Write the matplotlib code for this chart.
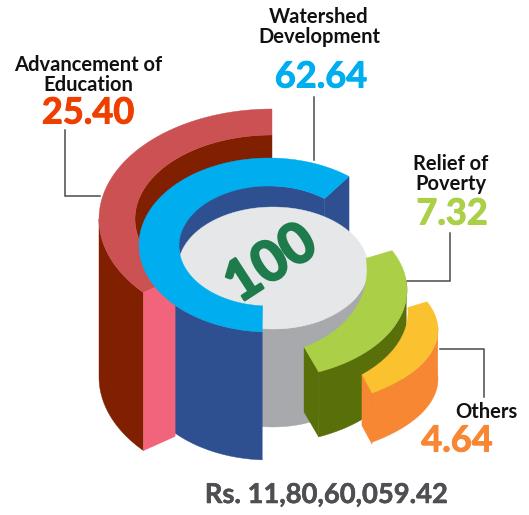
import numpy as np
import matplotlib
matplotlib.use("Agg")
import matplotlib.pyplot as plt
import matplotlib.patheffects as pe

categories = ["Advancement of\nEducation", "Watershed\nDevelopment", "Relief of\nPoverty", "Others"]
values = [25.40, 62.64, 7.32, 4.64]
total_label = "100"
amount_label = "Rs. 11,80,60,059.42"

plt.rcParams['font.family'] = ['Lato', 'DejaVu Sans']
fig = plt.figure(figsize=(5.29, 5.15), dpi=100)
ax = fig.add_axes([0, 0, 1, 1])
ax.set_xlim(0, 529)
ax.set_ylim(515, 0)
ax.axis('off')


def arc(ell, a0, a1, dy=0, n=120):
    cx, cy, rx, ry = ell
    t = np.radians(np.linspace(a0, a1, n))
    return cx + rx * np.cos(t), cy - ry * np.sin(t) + dy


def fill(xs, ys, color, z):
    ax.fill(xs, ys, color=color, lw=0.3, ec=color, zorder=z)


def band(outer, oa, inner, ia, color, z):
    x0, y0 = arc(outer, *oa)
    x1, y1 = arc(inner, ia[1], ia[0])
    fill(np.r_[x0, x1], np.r_[y0, y1], color, z)


def wall(ell, a0, a1, h, color, z):
    x, y = arc(ell, a0, a1)
    fill(np.r_[x, x[::-1]], np.r_[y, y[::-1] + h], color, z)


def end_face(p, q, h, color, z):
    fill([p[0], q[0], q[0], p[0]], [p[1], q[1], q[1] + h, p[1] + h], color, z)


def pt(ell, a):
    x, y = arc(ell, a, a, n=1)
    return x[0], y[0]


# ---- Advancement of Education (back ring)
R_OUT, R_IN = (272, 219, 173, 110), (272, 219, 137, 84)
x, y = arc(R_IN, 90, 205)
fill(np.r_[x, 272], np.r_[y, 219], '#802000', 1)
wall(R_OUT, 180, 222, 158, '#802000', 2)
band(R_OUT, (90, 222), R_IN, (90, 225), '#CB5153', 3)

# ---- Watershed Development
B_OUT, B_IN = (269, 245, 130, 87), (269, 246, 90, 60)
wall(B_IN, 52, 190, 60, '#2E5090', 4)
end_face(pt(B_IN, 52), pt(B_OUT, 52), 128, '#2E5090', 4)

# ---- Centre disc
G = (273, 268, 95, 61)
wall(G, 180, 360, 98, '#A7A9AC', 5)
x, y = arc(G, 0, 360)
fill(x, y, '#E6E7E8', 6)

wall(B_OUT, 222, 267, 128, '#2E5090', 7)
end_face(pt(R_OUT, 222), pt(R_IN, 225), 158, '#F2637C', 7.5)
band(B_OUT, (52, 267), B_IN, (52, 266), '#00AEEF', 8)

# ---- Relief of Poverty
V_OUT, V_IN = (262, 290, 145, 89), (262, 270, 105, 84)
wall(V_OUT, 293, 366, 65, '#596F0A', 9)
end_face(pt(V_IN, 293.6), pt(V_OUT, 293), 65, '#596F0A', 9)
band(V_OUT, (26.3, -67), V_IN, (8, -66.4), '#ABCF47', 10)

# ---- Others
O_OUT, O_IN = (262, 330, 176, 81), (262, 312, 146, 86)
wall(O_OUT, 308.7, 363, 49, '#F78733', 11)
end_face(pt(O_IN, 313.2), pt(O_OUT, 308.7), 51, '#F78733', 11)
band(O_OUT, (20.4, -51.3), O_IN, (3, -46.8), '#FBC22F', 12)

# ---- Leader lines
lc = '#4A4A4A'
leaders = [([65, 65, 100], [130, 195.5, 195.5]),
           ([314, 314], [97, 160]),
           ([450, 450, 407], [233, 281, 281]),
           ([484, 484, 440], [397, 349, 349])]
for lx, ly in leaders:
    ax.plot(lx, ly, color=lc, lw=1.1, zorder=0, solid_joinstyle='miter')


def heavy(w, color):
    return [pe.withStroke(linewidth=w, foreground=color)]


# ---- Labels
label_xy = [(88, 75), (319, 27), (451, 174), (486, 412)]
value_xy = [(88, 113), (321, 77), (452, 214), (457, 441)]
value_colors = ['#EE3F00', '#00AEEF', '#ABCF47', '#F78733']
for cat, val, lxy, vxy, col in zip(categories, values, label_xy, value_xy, value_colors):
    ax.text(*lxy, cat, ha='center', va='center', fontsize=14.5, fontweight='bold',
            color='#111111', linespacing=1.05, zorder=20)
    ax.text(*vxy, f"{val:.2f}", ha='center', va='center', fontsize=26, fontweight='bold',
            color=col, zorder=20, path_effects=heavy(0.7, col))

ax.text(271, 264, total_label, ha='center', va='center', fontsize=40, fontweight='bold',
        color='#1E7B4B', rotation=33, rotation_mode='anchor', zorder=20,
        path_effects=heavy(1.8, '#1E7B4B'))
ax.text(326, 495, amount_label, ha='center', va='center', fontsize=19.7, fontweight='bold',
        color='#4D4F53', zorder=20, path_effects=heavy(0.4, '#4D4F53'))

fig.savefig('out.png', dpi=100)
